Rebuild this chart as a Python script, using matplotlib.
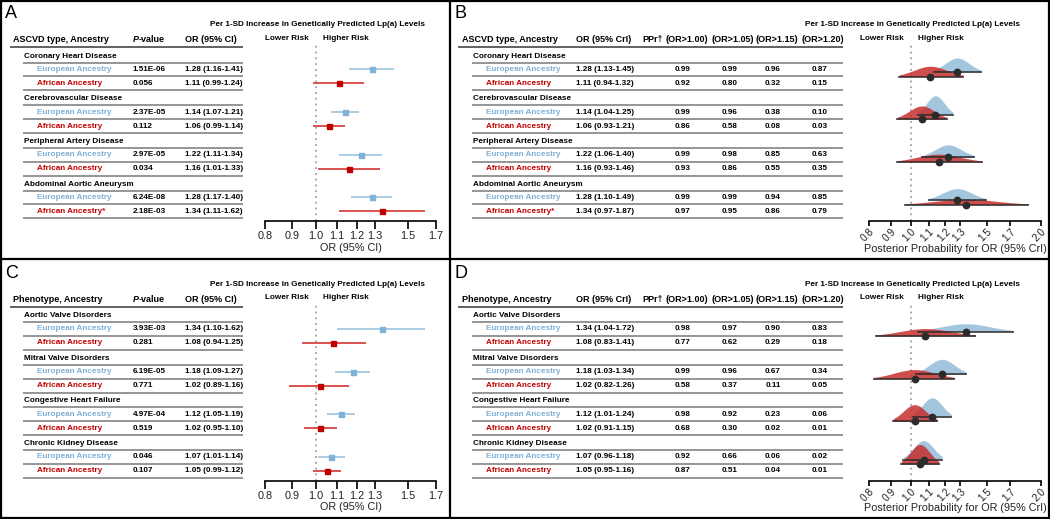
import numpy as np
import matplotlib
matplotlib.use("Agg")
import matplotlib.pyplot as plt

plt.rcParams["font.family"] = ["Liberation Sans", "DejaVu Sans"]

W, H = 1050, 519

EUR_TXT = "#7fb0d6"; AFR_TXT = "#c00000"
EUR_MK = "#7fb2d5";  EUR_LN = "#a9cce3"
AFR_MK = "#c00000";  AFR_LN = "#d9534f"
EUR_FILL = "#a3c6de"; AFR_FILL = "#c62f2f"
DOT = "#2b2b2b"

# ---------------- data ----------------
ascvd_names = ["Coronary Heart Disease", "Cerebrovascular Disease",
               "Peripheral Artery Disease", "Abdominal Aortic Aneurysm"]
ascvd_p_eur = ["1.51E-06", "2.37E-05", "2.97E-05", "6.24E-08"]
ascvd_p_afr = ["0.056", "0.112", "0.034", "2.18E-03"]
ascvd_or_eur = [1.28, 1.14, 1.22, 1.28]
ascvd_lo_eur = [1.16, 1.07, 1.11, 1.17]
ascvd_hi_eur = [1.41, 1.21, 1.34, 1.40]
ascvd_or_afr = [1.11, 1.06, 1.16, 1.34]
ascvd_lo_afr = [0.99, 0.99, 1.01, 1.11]
ascvd_hi_afr = [1.24, 1.14, 1.33, 1.62]
ascvd_star = [False, False, False, True]   # AAA African row carries an asterisk

ascvd_bor_eur = [1.28, 1.14, 1.22, 1.28]
ascvd_blo_eur = [1.13, 1.04, 1.06, 1.10]
ascvd_bhi_eur = [1.45, 1.25, 1.40, 1.49]
ascvd_bor_afr = [1.11, 1.06, 1.16, 1.34]
ascvd_blo_afr = [0.94, 0.93, 0.93, 0.97]
ascvd_bhi_afr = [1.32, 1.21, 1.46, 1.87]
ascvd_ppr_eur = [[0.99, 0.99, 0.96, 0.87], [0.99, 0.96, 0.38, 0.10],
                 [0.99, 0.98, 0.85, 0.63], [0.99, 0.99, 0.94, 0.85]]
ascvd_ppr_afr = [[0.92, 0.80, 0.32, 0.15], [0.86, 0.58, 0.08, 0.03],
                 [0.93, 0.86, 0.55, 0.35], [0.97, 0.95, 0.86, 0.79]]

pheno_names = ["Aortic Valve Disorders", "Mitral Valve Disorders",
               "Congestive Heart Failure", "Chronic Kidney Disease"]
pheno_p_eur = ["3.93E-03", "6.19E-05", "4.97E-04", "0.046"]
pheno_p_afr = ["0.281", "0.771", "0.519", "0.107"]
pheno_or_eur = [1.34, 1.18, 1.12, 1.07]
pheno_lo_eur = [1.10, 1.09, 1.05, 1.01]
pheno_hi_eur = [1.62, 1.27, 1.19, 1.14]
pheno_or_afr = [1.08, 1.02, 1.02, 1.05]
pheno_lo_afr = [0.94, 0.89, 0.95, 0.99]
pheno_hi_afr = [1.25, 1.16, 1.10, 1.12]
pheno_star = [False, False, False, False]

pheno_bor_eur = [1.34, 1.18, 1.12, 1.07]
pheno_blo_eur = [1.04, 1.03, 1.01, 0.96]
pheno_bhi_eur = [1.72, 1.34, 1.24, 1.18]
pheno_bor_afr = [1.08, 1.02, 1.02, 1.05]
pheno_blo_afr = [0.83, 0.82, 0.91, 0.95]
pheno_bhi_afr = [1.41, 1.26, 1.15, 1.16]
pheno_ppr_eur = [[0.98, 0.97, 0.90, 0.83], [0.99, 0.96, 0.67, 0.34],
                 [0.98, 0.92, 0.23, 0.06], [0.92, 0.66, 0.06, 0.02]]
pheno_ppr_afr = [[0.77, 0.62, 0.29, 0.18], [0.58, 0.37, 0.11, 0.05],
                 [0.68, 0.30, 0.02, 0.01], [0.87, 0.51, 0.04, 0.01]]

thresholds = ["(OR>1.00)", "(OR>1.05)", "(OR>1.15)", "(OR>1.20)"]
freq_ticks = [0.8, 0.9, 1.0, 1.1, 1.2, 1.3, 1.5, 1.7]
bayes_ticks = [0.8, 0.9, 1.0, 1.1, 1.2, 1.3, 1.5, 1.7, 2.0]

HEADER = "Per 1-SD Increase in Genetically Predicted Lp(a) Levels"

BODY = 5.9   # pt
HEAD = 6.5
TICK = 7.8
LINE_C = "#7f7f7f"

fig = plt.figure(figsize=(W / 100, H / 100), dpi=100)
bg = fig.add_axes([0, 0, 1, 1])
bg.set_xlim(0, W); bg.set_ylim(H, 0); bg.axis("off")


def rows(oy):
    grp = [oy + 56 + g * 42.7 for g in range(4)]
    eur = [y + 13.3 for y in grp]
    afr = [y + 27.3 for y in grp]
    return grp, eur, afr


def hline(x0, x1, y, color=LINE_C, lw=1.15):
    bg.plot([x0, x1], [y, y], color=color, lw=lw, solid_capstyle="butt")


def txt(x, y, s, **kw):
    kw.setdefault("fontsize", BODY)
    kw.setdefault("fontweight", "bold")
    kw.setdefault("va", "center")
    return bg.text(x, y, s, **kw)


def make_axes(x0, x1, y0, y1):
    ax = fig.add_axes([x0 / W, 1 - y1 / H, (x1 - x0) / W, (y1 - y0) / H])
    ax.set_facecolor("none")
    for s in ["top", "right", "left"]:
        ax.spines[s].set_visible(False)
    ax.spines["bottom"].set_linewidth(1.2)
    ax.set_ylim(y1, y0)
    ax.set_yticks([])
    ax.set_xscale("log")
    ax.tick_params(axis="x", which="both", direction="out", length=5.5, width=1.2,
                   labelsize=TICK, labelcolor="#222", pad=2)
    ax.minorticks_off()
    ax.axvline(1.0, color="#a0a0a0", ls=(0, (1, 2.2)), lw=1.3, zorder=0)
    ax.annotate("Lower Risk", xy=(1.0, y0 - 6), xycoords="data", xytext=(-5, 0),
                textcoords="offset points", ha="right", va="center",
                fontsize=BODY, fontweight="bold", annotation_clip=False)
    ax.annotate("Higher Risk", xy=(1.0, y0 - 6), xycoords="data", xytext=(5, 0),
                textcoords="offset points", ha="left", va="center",
                fontsize=BODY, fontweight="bold", annotation_clip=False)
    return ax


def left_table(ox, oy, first_col, names, p_eur, p_afr, or_e, lo_e, hi_e,
               or_a, lo_a, hi_a, star):
    grp, eur, afr = rows(oy)
    txt(ox + 210, oy + 25, HEADER)
    txt(ox + 13, oy + 40, first_col, fontsize=HEAD)
    p = txt(ox + 133, oy + 40, "P", fontsize=HEAD, style="italic")
    bg.annotate("-value", xy=(1, 0), xycoords=p, va="bottom", ha="left",
                fontsize=HEAD, fontweight="bold")
    txt(ox + 185, oy + 40, "OR (95% CI)", fontsize=HEAD)
    hline(ox + 10, ox + 243, oy + 47, color="#555555", lw=1.3)
    for i in range(4):
        txt(ox + 24, grp[i], names[i])
        hline(ox + 23, ox + 243, grp[i] + 6.5)
        txt(ox + 37, eur[i], "European Ancestry", color=EUR_TXT)
        txt(ox + 133, eur[i], p_eur[i])
        txt(ox + 185, eur[i], f"{or_e[i]:.2f} ({lo_e[i]:.2f}-{hi_e[i]:.2f})")
        hline(ox + 23, ox + 243, eur[i] + 7)
        txt(ox + 37, afr[i], "African Ancestry" + ("*" if star[i] else ""), color=AFR_TXT)
        txt(ox + 133, afr[i], p_afr[i])
        txt(ox + 185, afr[i], f"{or_a[i]:.2f} ({lo_a[i]:.2f}-{hi_a[i]:.2f})")
        hline(ox + 23, ox + 243, afr[i] + 7)

    ax = make_axes(ox + 265, ox + 436, oy + 44, oy + 221)
    ax.set_xlim(0.8, 1.7)
    ax.set_xticks(freq_ticks)
    ax.set_xticklabels([f"{t:.1f}" for t in freq_ticks])
    ax.minorticks_off()
    ax.hlines(eur, lo_e, hi_e, color=EUR_LN, lw=1.4, zorder=2)
    ax.plot(or_e, eur, "s", color=EUR_MK, ms=3.6, zorder=3)
    ax.hlines(afr, lo_a, hi_a, color=AFR_LN, lw=1.4, zorder=2)
    ax.plot(or_a, afr, "s", color=AFR_MK, ms=3.6, zorder=3)
    txt(ox + 350.5, oy + 248, "OR (95% CI)", fontsize=TICK, fontweight="normal",
        ha="center", color="#222")


def ridge(ax, orv, lo, hi, base, k, fill, alpha):
    sd = (np.log(hi) - np.log(lo)) / 3.92
    xs = np.exp(np.linspace(np.log(lo), np.log(hi), 200))
    z = (np.log(xs) - np.log(orv)) / sd
    h = k / sd * np.exp(-0.5 * z ** 2)
    ax.fill_between(xs, base, base - h, color=fill, alpha=alpha, lw=0, zorder=2)
    ax.plot([lo, hi], [base, base], color=DOT, lw=1.3, alpha=0.85, zorder=3)
    ax.plot([orv], [base], "o", color=DOT, ms=4.6, zorder=4)


def right_table(ox, oy, first_col, names, or_e, lo_e, hi_e, or_a, lo_a, hi_a,
                ppr_e, ppr_a, k, star):
    grp, eur, afr = rows(oy)
    txt(ox + 356, oy + 25, HEADER)
    txt(ox + 13, oy + 40, first_col, fontsize=HEAD)
    txt(ox + 127, oy + 40, "OR (95% CrI)", fontsize=HEAD)
    txt(ox + 193, oy + 40, "PPr\u2020", fontsize=HEAD)
    th_x = [ox + 216, ox + 262, ox + 307, ox + 353]
    val_x = [ox + 234, ox + 281, ox + 324, ox + 371]
    for j in range(4):
        txt(th_x[j], oy + 40, thresholds[j], fontsize=HEAD)
    hline(ox + 9, ox + 394, oy + 47, color="#555555", lw=1.3)
    for i in range(4):
        txt(ox + 24, grp[i], names[i])
        hline(ox + 23, ox + 394, grp[i] + 6.5)
        txt(ox + 37, eur[i], "European Ancestry", color=EUR_TXT)
        txt(ox + 127, eur[i], f"{or_e[i]:.2f} ({lo_e[i]:.2f}-{hi_e[i]:.2f})")
        hline(ox + 23, ox + 394, eur[i] + 7)
        txt(ox + 37, afr[i], "African Ancestry" + ("*" if star[i] else ""), color=AFR_TXT)
        txt(ox + 127, afr[i], f"{or_a[i]:.2f} ({lo_a[i]:.2f}-{hi_a[i]:.2f})")
        hline(ox + 23, ox + 394, afr[i] + 7)
        for j in range(4):
            txt(val_x[j], eur[i], f"{ppr_e[i][j]:.2f}", ha="center")
            txt(val_x[j], afr[i], f"{ppr_a[i][j]:.2f}", ha="center")

    ax = make_axes(ox + 420, ox + 592, oy + 44, oy + 221)
    ax.set_xlim(0.8, 2.0)
    ax.set_xticks(bayes_ticks)
    ax.set_xticklabels([f"{t:.1f}" for t in bayes_ticks], rotation=45,
                       ha="right", va="top", rotation_mode="anchor")
    ax.tick_params(axis="x", length=3.5, pad=0.5, labelsize=7.3)
    ax.minorticks_off()
    for i in range(4):
        ridge(ax, or_e[i], lo_e[i], hi_e[i], eur[i] + 2.7, k, EUR_FILL, 1.0)
        ridge(ax, or_a[i], lo_a[i], hi_a[i], eur[i] + 7.2, k, AFR_FILL, 0.85)
    txt(ox + 506, oy + 248.5, "Posterior Probability for OR (95% CrI)", fontsize=TICK,
        fontweight="normal", ha="center", color="#222")


left_table(0, 0, "ASCVD type, Ancestry", ascvd_names, ascvd_p_eur, ascvd_p_afr,
           ascvd_or_eur, ascvd_lo_eur, ascvd_hi_eur, ascvd_or_afr, ascvd_lo_afr,
           ascvd_hi_afr, ascvd_star)
left_table(0, 259.5, "Phenotype, Ancestry", pheno_names, pheno_p_eur, pheno_p_afr,
           pheno_or_eur, pheno_lo_eur, pheno_hi_eur, pheno_or_afr, pheno_lo_afr,
           pheno_hi_afr, pheno_star)
right_table(449, 0, "ASCVD type, Ancestry", ascvd_names,
            ascvd_bor_eur, ascvd_blo_eur, ascvd_bhi_eur, ascvd_bor_afr, ascvd_blo_afr,
            ascvd_bhi_afr, ascvd_ppr_eur, ascvd_ppr_afr, 0.89, ascvd_star)
right_table(449, 259.5, "Phenotype, Ancestry", pheno_names,
            pheno_bor_eur, pheno_blo_eur, pheno_bhi_eur, pheno_bor_afr, pheno_blo_afr,
            pheno_bhi_afr, pheno_ppr_eur, pheno_ppr_afr, 1.0, pheno_star)

# panel letters
for letter, (lx, ly) in zip("ABCD", [(5, 14), (455, 14), (5, 274), (455, 274)]):
    bg.text(lx, ly, letter, fontsize=13, va="center", ha="left")

# panel borders
for x in [1, 450, 1048.5]:
    bg.plot([x, x], [0, H], color="black", lw=1.6, clip_on=False)
for y in [1, 259, 517.5]:
    bg.plot([0, W], [y, y], color="black", lw=1.6, clip_on=False)

plt.savefig("out.png", dpi=100)
plt.close()
